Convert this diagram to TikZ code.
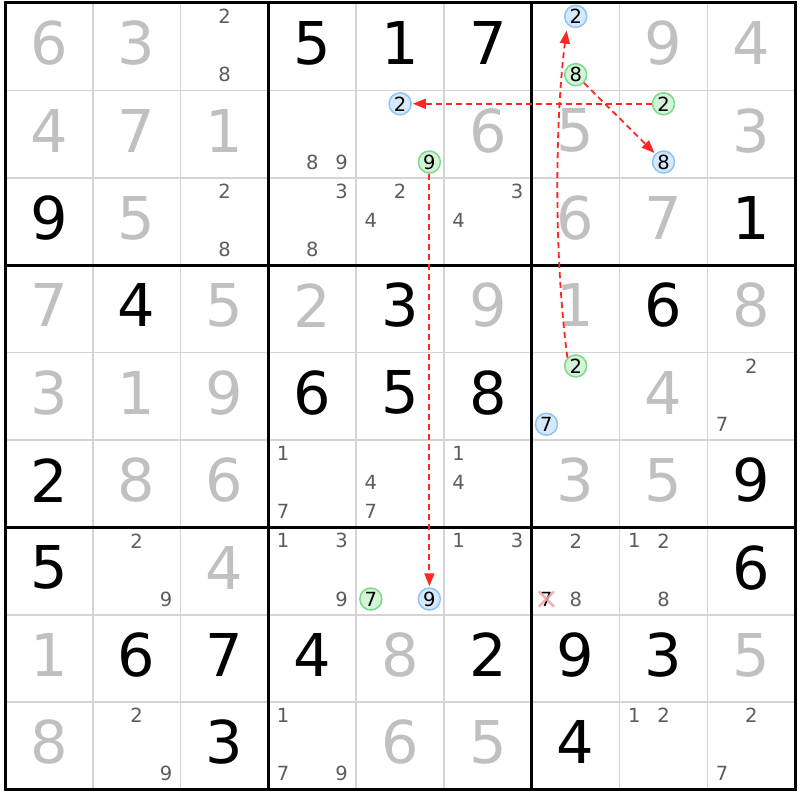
\documentclass[tikz,border=0pt]{standalone}
\usepackage{fontspec}
\setmainfont{DejaVu Sans}
\usetikzlibrary{arrows.meta,shapes.misc}
\definecolor{solvedc}{HTML}{C0C0C0}
\definecolor{candc}{HTML}{5C5C5C}
\definecolor{thinc}{HTML}{D4D4D4}
\definecolor{bluefill}{HTML}{D6E9FC}
\definecolor{blueline}{HTML}{8EC3F7}
\definecolor{greenfill}{HTML}{D4F4D8}
\definecolor{greenline}{HTML}{7DD98A}
\definecolor{arrowred}{HTML}{FF2626}
\definecolor{crossc}{HTML}{F2A0AA}
\def\cw{87.8}
\def\ch{87.4}
\newcommand\sdplace[4]{%
  \node[#4] (v#1#2) at ({5+(#1-0.5)*\cw},{3+(#2-0.5)*\ch-3.5}) {#3};}
\newcommand\sdcand[4][cand]{%
  \node[#1] (k#2#3#4) at ({5+(#2-1)*\cw+(mod(#4-1,3)+0.5)*\cw/3},{3+(#3-1)*\ch+(floor((#4-1)/3)+0.5)*\ch/3-1.2}) {#4};}
\tikzset{
  given/.style={font=\fontsize{59}{59}\selectfont, text=black, inner sep=0pt},
  solved/.style={given, text=solvedc},
  cand/.style={font=\fontsize{19.5}{19.5}\selectfont, text=candc, inner sep=0pt},
  candblack/.style={cand, text=black},
  bluec/.style={cand, text=black, circle, draw=blueline, fill=bluefill, line width=1.5pt, minimum size=22pt},
  greenc/.style={cand, text=black, circle, draw=greenline, fill=greenfill, line width=1.5pt, minimum size=22pt},
  thinline/.style={draw=thinc, line width=1.5pt},
  thickline/.style={draw=black, line width=3pt},
  arr/.style={draw=arrowred, line width=1.8pt, dash pattern=on 6pt off 4pt, -{Triangle[length=13pt,width=10pt]}},
  crossmark/.style={cross out, draw=crossc, line width=2.4pt, minimum size=13pt, inner sep=0pt, opacity=0.85}
}
\begin{document}
\begin{tikzpicture}[x=1pt,y=-1pt]
\useasboundingbox (0,0) rectangle (800,800);
\fill[white] (0,0) rectangle (800,800);
% thin grid lines
\foreach \i in {1,2,4,5,7,8} {
  \draw[thinline] ({5+\i*\cw},3) -- ({5+\i*\cw},{3+9*\ch});
  \draw[thinline] (5,{3+\i*\ch}) -- ({5+9*\cw},{3+\i*\ch});
}
% thick grid lines
\foreach \i in {3,6} {
  \draw[thickline] ({5+\i*\cw},3) -- ({5+\i*\cw},{3+9*\ch});
  \draw[thickline] (5,{3+\i*\ch}) -- ({5+9*\cw},{3+\i*\ch});
}
\draw[thickline] (5,3) rectangle ({5+9*\cw},{3+9*\ch});

% Row 1
\sdplace{1}{1}{6}{solved}\sdplace{2}{1}{3}{solved}
\sdcand{3}{1}{2}\sdcand{3}{1}{8}
\sdplace{4}{1}{5}{given}\sdplace{5}{1}{1}{given}\sdplace{6}{1}{7}{given}
\sdcand[bluec]{7}{1}{2}\sdcand[greenc]{7}{1}{8}
\sdplace{8}{1}{9}{solved}\sdplace{9}{1}{4}{solved}
% Row 2
\sdplace{1}{2}{4}{solved}\sdplace{2}{2}{7}{solved}\sdplace{3}{2}{1}{solved}
\sdcand{4}{2}{8}\sdcand{4}{2}{9}
\sdcand[bluec]{5}{2}{2}\sdcand[greenc]{5}{2}{9}
\sdplace{6}{2}{6}{solved}\sdplace{7}{2}{5}{solved}
\sdcand[greenc]{8}{2}{2}\sdcand[bluec]{8}{2}{8}
\sdplace{9}{2}{3}{solved}
% Row 3
\sdplace{1}{3}{9}{given}\sdplace{2}{3}{5}{solved}
\sdcand{3}{3}{2}\sdcand{3}{3}{8}
\sdcand{4}{3}{3}\sdcand{4}{3}{8}
\sdcand{5}{3}{2}\sdcand{5}{3}{4}
\sdcand{6}{3}{3}\sdcand{6}{3}{4}
\sdplace{7}{3}{6}{solved}\sdplace{8}{3}{7}{solved}\sdplace{9}{3}{1}{given}
% Row 4
\sdplace{1}{4}{7}{solved}\sdplace{2}{4}{4}{given}\sdplace{3}{4}{5}{solved}
\sdplace{4}{4}{2}{solved}\sdplace{5}{4}{3}{given}\sdplace{6}{4}{9}{solved}
\sdplace{7}{4}{1}{solved}\sdplace{8}{4}{6}{given}\sdplace{9}{4}{8}{solved}
% Row 5
\sdplace{1}{5}{3}{solved}\sdplace{2}{5}{1}{solved}\sdplace{3}{5}{9}{solved}
\sdplace{4}{5}{6}{given}\sdplace{5}{5}{5}{given}\sdplace{6}{5}{8}{given}
\sdcand[greenc]{7}{5}{2}\sdcand[bluec]{7}{5}{7}
\sdplace{8}{5}{4}{solved}
\sdcand{9}{5}{2}\sdcand{9}{5}{7}
% Row 6
\sdplace{1}{6}{2}{given}\sdplace{2}{6}{8}{solved}\sdplace{3}{6}{6}{solved}
\sdcand{4}{6}{1}\sdcand{4}{6}{7}
\sdcand{5}{6}{4}\sdcand{5}{6}{7}
\sdcand{6}{6}{1}\sdcand{6}{6}{4}
\sdplace{7}{6}{3}{solved}\sdplace{8}{6}{5}{solved}\sdplace{9}{6}{9}{given}
% Row 7
\sdplace{1}{7}{5}{given}
\sdcand{2}{7}{2}\sdcand{2}{7}{9}
\sdplace{3}{7}{4}{solved}
\sdcand{4}{7}{1}\sdcand{4}{7}{3}\sdcand{4}{7}{9}
\sdcand[greenc]{5}{7}{7}\sdcand[bluec]{5}{7}{9}
\sdcand{6}{7}{1}\sdcand{6}{7}{3}
\sdcand{7}{7}{2}\sdcand[candblack]{7}{7}{7}\sdcand{7}{7}{8}
\node[crossmark] (x777) at (k777) {};
\sdcand{8}{7}{1}\sdcand{8}{7}{2}\sdcand{8}{7}{8}
\sdplace{9}{7}{6}{given}
% Row 8
\sdplace{1}{8}{1}{solved}\sdplace{2}{8}{6}{given}\sdplace{3}{8}{7}{given}
\sdplace{4}{8}{4}{given}\sdplace{5}{8}{8}{solved}\sdplace{6}{8}{2}{given}
\sdplace{7}{8}{9}{given}\sdplace{8}{8}{3}{given}\sdplace{9}{8}{5}{solved}
% Row 9
\sdplace{1}{9}{8}{solved}
\sdcand{2}{9}{2}\sdcand{2}{9}{9}
\sdplace{3}{9}{3}{given}
\sdcand{4}{9}{1}\sdcand{4}{9}{7}\sdcand{4}{9}{9}
\sdplace{5}{9}{6}{solved}\sdplace{6}{9}{5}{solved}
\sdplace{7}{9}{4}{given}
\sdcand{8}{9}{1}\sdcand{8}{9}{2}
\sdcand{9}{9}{2}\sdcand{9}{9}{7}

% chain arrows
\draw[arr, shorten >=1pt] (k822) -- (k522);
\draw[arr, shorten >=1pt] (k718) -- (k828);
\draw[arr, shorten >=1pt] (k529) -- (k579);
\draw[arr, shorten >=6pt] (k752.135) .. controls +(-14,-105) and +(-12,90) .. (k712.225);
\end{tikzpicture}
\end{document}
